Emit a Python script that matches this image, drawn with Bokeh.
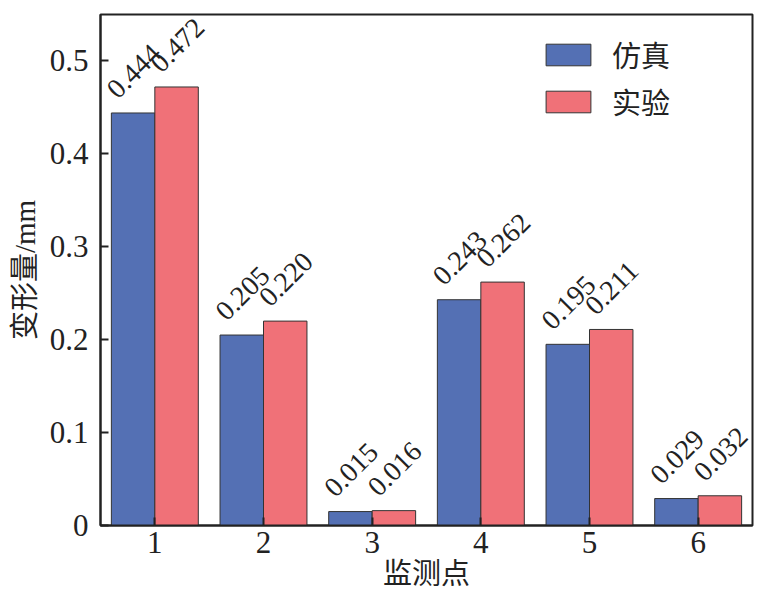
import math
from bokeh.plotting import figure
from bokeh.models import ColumnDataSource, FactorRange, Range1d, FixedTicker, Legend, LegendItem, LabelSet
from bokeh.transform import dodge
from bokeh.embed import file_html
from bokeh.resources import INLINE

points = ["1", "2", "3", "4", "5", "6"]
sim = [0.444, 0.205, 0.015, 0.243, 0.195, 0.029]
exp = [0.472, 0.220, 0.016, 0.262, 0.211, 0.032]
sim_labels = ["0.444", "0.205", "0.015", "0.243", "0.195", "0.029"]
exp_labels = ["0.472", "0.220", "0.016", "0.262", "0.211", "0.032"]
y_ticks = [0, 0.1, 0.2, 0.3, 0.4, 0.5]
series_names = ["仿真", "实验"]
x_title = "监测点"
y_title = "变形量/mm"

BLUE = "#5470B4"
RED = "#F07178"
FONT = "'Liberation Serif', 'Noto Sans CJK SC'"

src = ColumnDataSource(dict(x=points, sim=sim, exp=exp, sl=sim_labels, el=exp_labels))

p = figure(width=755, height=596, output_backend="svg", toolbar_location=None,
           x_range=FactorRange(*points, range_padding=0), y_range=Range1d(0, 0.55),
           min_border_left=100, min_border_right=3, min_border_top=14, min_border_bottom=71)
p.x_range.range_padding = 0
p.grid.visible = False
p.outline_line_color = "#222222"
p.outline_line_width = 2
p.background_fill_color = "white"
p.border_fill_color = "white"

r1 = p.vbar(x=dodge("x", -0.2, range=p.x_range), top="sim", width=0.4, source=src,
            fill_color=BLUE, line_color="#333333", line_width=1)
r2 = p.vbar(x=dodge("x", 0.2, range=p.x_range), top="exp", width=0.4, source=src,
            fill_color=RED, line_color="#333333", line_width=1)

for col, dx in (("sl", -0.2), ("el", 0.2)):
    key = "sim" if col == "sl" else "exp"
    labels = LabelSet(x=dodge("x", dx, range=p.x_range), y=key, text=col, source=src,
                      angle=math.radians(45), text_align="left", text_baseline="alphabetic",
                      x_offset=-15, y_offset=13,
                      text_font="Liberation Serif", text_font_size="28px", text_color="#222222")
    p.add_layout(labels)

for ax in (p.xaxis[0], p.yaxis[0]):
    ax.axis_line_color = "#222222"
    ax.axis_line_width = 2
    ax.major_tick_line_color = "#222222"
    ax.major_tick_line_width = 2
    ax.major_tick_in = 8
    ax.major_tick_out = 0
    ax.minor_tick_line_color = None
    ax.major_label_text_font = FONT
    ax.major_label_text_font_size = "31px"
    ax.major_label_text_color = "#222222"
    ax.axis_label_text_font = FONT
    ax.axis_label_text_font_size = "29px"
    ax.axis_label_text_font_style = "normal"
    ax.axis_label_text_color = "#222222"

p.yaxis.ticker = FixedTicker(ticks=y_ticks)
p.yaxis.major_label_overrides = {0: "0"}
p.xaxis.axis_label = x_title
p.yaxis.axis_label = y_title
p.xaxis.major_label_standoff = 6
p.xaxis.axis_label_standoff = 2
p.yaxis.major_label_standoff = 12
p.yaxis.axis_label_standoff = 6

legend = Legend(items=[LegendItem(label=series_names[0], renderers=[r1]),
                       LegendItem(label=series_names[1], renderers=[r2])],
                location=(440, 403), glyph_width=56, glyph_height=27, spacing=5,
                padding=0, margin=0, label_standoff=16,
                label_text_font=FONT, label_text_font_size="29px", label_text_color="#222222",
                border_line_color=None, background_fill_alpha=0)
p.add_layout(legend)

open("out.html", "w").write(file_html(p, INLINE))
